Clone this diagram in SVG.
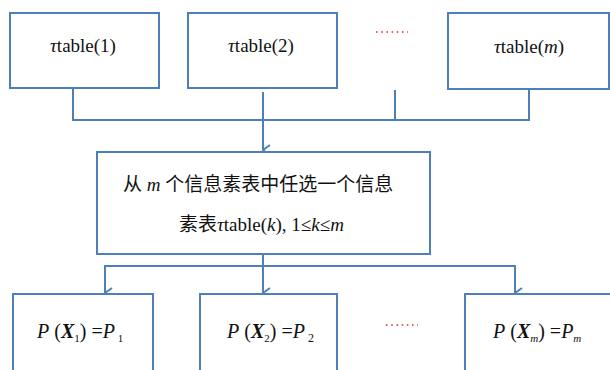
<svg xmlns="http://www.w3.org/2000/svg" width="610" height="370" viewBox="0 0 610 370">
  <style>
    .box { fill: #ffffff; stroke: #4f7fba; stroke-width: 2; }
    .wire { fill: none; stroke: #4f7fba; stroke-width: 2; }
    .t { font-family: 'Liberation Serif', 'Times New Roman', 'Noto Sans CJK SC', serif; font-size: 19px; fill: #111111; }
    .big { font-size: 20px; }
    .i { font-style: italic; }
    .b { font-weight: bold; font-style: italic; }
    .dots { fill: none; stroke: #e0302a; stroke-width: 1.6; stroke-dasharray: 1.6 3.6; }
  </style>
  <defs>
    <marker id="arrow" markerWidth="12" markerHeight="12" viewBox="0 0 12 12" refX="6" refY="11" orient="auto-start-reverse" markerUnits="userSpaceOnUse">
      <path d="M1,4 L6,11 L11,4" fill="none" stroke="#4f7fba" stroke-width="2"/>
    </marker>
  </defs>
  <rect width="610" height="370" fill="#ffffff"/>

  <!-- connectors -->
  <g id="connectors">
    <polyline class="wire" points="73,88 73,120 529,120 529,89"/>
    <line class="wire" x1="395" y1="90" x2="395" y2="120"/>
    <line class="wire" x1="263" y1="92" x2="263" y2="150" marker-end="url(#arrow)"/>
    <line class="wire" x1="263" y1="254" x2="263" y2="293" marker-end="url(#arrow)"/>
    <polyline class="wire" points="105,293 105,266 515,266 515,293" marker-start="url(#arrow)" marker-end="url(#arrow)"/>
    <line class="dots" x1="376" y1="32" x2="408" y2="32"/>
    <line class="dots" x1="386" y1="325" x2="418" y2="325"/>
  </g>

  <!-- top row -->
  <g id="table1">
    <rect class="box" x="10" y="13" width="149" height="75"/>
    <text class="t" x="83" y="52" text-anchor="middle"><tspan class="i">τ</tspan>table(1)</text>
  </g>
  <g id="table2">
    <rect class="box" x="188" y="13" width="149" height="75"/>
    <text class="t" x="261" y="52" text-anchor="middle"><tspan class="i">τ</tspan>table(2)</text>
  </g>
  <g id="tablem">
    <rect class="box" x="448" y="13" width="161" height="76"/>
    <text class="t" x="529" y="53" text-anchor="middle"><tspan class="i">τ</tspan>table(<tspan class="i">m</tspan>)</text>
  </g>

  <!-- selection step -->
  <g id="select">
    <rect class="box" x="97" y="152" width="333" height="102"/>
    <text class="t" x="123" y="191">从 <tspan class="i">m</tspan> 个信息素表中任选一个信息</text>
    <text class="t" x="179" y="231">素表<tspan class="i">τ</tspan>table(<tspan class="i">k</tspan>), 1≤<tspan class="i">k</tspan>≤<tspan class="i">m</tspan></text>
  </g>

  <!-- bottom row -->
  <g id="p1">
    <rect class="box" x="13" y="294" width="140" height="90"/>
    <text class="t big" x="37" y="338"><tspan class="i">P</tspan> (<tspan class="b">X</tspan><tspan font-size="11" dy="4">1</tspan><tspan dy="-4">) =</tspan><tspan class="i">P</tspan><tspan font-size="11" dy="4"> 1</tspan></text>
  </g>
  <g id="p2">
    <rect class="box" x="200" y="294" width="137" height="90"/>
    <text class="t big" x="227" y="338"><tspan class="i">P</tspan> (<tspan class="b">X</tspan><tspan font-size="11" dy="4">2</tspan><tspan dy="-4">) =</tspan><tspan class="i">P</tspan><tspan font-size="12" dy="4"> 2</tspan></text>
  </g>
  <g id="pm">
    <rect class="box" x="465" y="294" width="160" height="90"/>
    <text class="t big" x="493" y="338"><tspan class="i">P</tspan> (<tspan class="b">X</tspan><tspan class="i" font-size="11" dy="4">m</tspan><tspan dy="-4">) =</tspan><tspan class="i">P</tspan><tspan class="i" font-size="11" dy="4">m</tspan></text>
  </g>
</svg>
